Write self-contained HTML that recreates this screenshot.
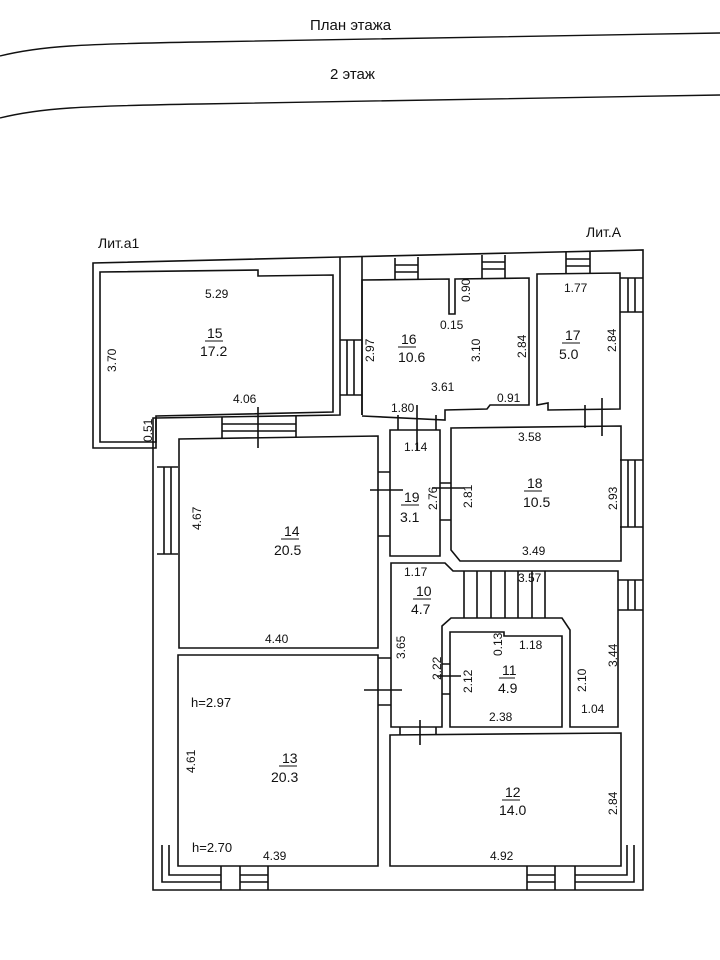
<!DOCTYPE html>
<html><head><meta charset="utf-8"><style>
html,body{margin:0;padding:0;background:#fff;}
svg{display:block}
text{font-family:"Liberation Sans",sans-serif;font-size:12px;fill:#111}
.n{font-size:14px}
.h{font-family:"Liberation Sans Narrow","Liberation Sans",sans-serif;font-size:15px}
</style></head><body>
<svg width="720" height="960" viewBox="0 0 720 960" xmlns="http://www.w3.org/2000/svg">
<g fill="none" stroke="#111" stroke-width="1.6">
<!-- header -->
<path d="M0,56 C40,46 80,44 200,42 L720,33" stroke-width="1.4"/>
<path d="M0,118 C40,108 80,106 200,104 L720,95" stroke-width="1.4"/>
<!-- Lit a1 outer -->
<path d="M93,448 L93,263 L340,257 L643,250 L643,890 L153,890 L153,418 L156,418 L156,448 Z"/>
<!-- room 15 -->
<path d="M100,442 L100,272 L258,270 L258,276 L333,275 L333,412 L156,416 L156,442 Z"/>
<!-- main top outer separation -->
<path d="M156,418 L340,415 L340,257"/>
<path d="M362,415 L362,257"/>
<!-- room 16 -->
<path d="M362,415 L362,280 L449,279 L449,314 L455,314 L455,279 L529,278 L529,405 L490,405 L487,409 L445,410 L445,420 L362,416"/>
<!-- room 17 -->
<path d="M537,405 L537,274 L620,273 L620,409 L548,410 L548,403 Z"/>
<!-- room 14 -->
<path d="M179,648 L179,439 L378,436 L378,648 Z"/>
<!-- room 13 -->
<path d="M178,866 L178,655 L378,655 L378,866 Z"/>
<!-- room 19 -->
<path d="M390,556 L390,430 L440,430 L440,556 Z"/>
<!-- room 18 -->
<path d="M451,550 L451,428 L621,426 L621,561 L460,561 Z"/>
<!-- room 10 + stair -->
<path d="M391,727 L391,563 L445,563 L453,571 L618,571 L618,727 L570,727 L570,630 L562,618 L451,618 L442,626 L442,727 Z"/>
<!-- room 11 -->
<path d="M450,727 L450,632 L504,632 L504,636 L562,636 L562,727 Z"/>
<!-- stair lines -->
<path d="M464,571V618M477,571V618M491,571V618M505,571V618M518,571V618M532,571V618M545,571V618"/>
<!-- room 12 -->
<path d="M390,866 L390,735 L621,733 L621,866 Z"/>
<!-- bottom corner lines -->
<path d="M162,845 V882 H221 M169,845 V875 H221"/>
<path d="M634,845 V882 H575 M627,845 V875 H575"/>
<path d="M221,866V890 M240,866V890 M268,866V890 M240,875H268 M240,882H268"/>
<path d="M527,866V890 M555,866V890 M575,866V890 M527,875H555 M527,882H555"/>
<!-- windows -->
<path d="M222,417V438 M296,416V437 M222,424H296 M222,431H296"/>
<path d="M157,467H178 M157,554H178 M164,467V554 M171,467V554"/>
<path d="M340,340H362 M340,395H362 M347,340V395 M354,340V395"/>
<path d="M395,258V280 M418,257V280 M395,265H418 M395,272H418"/>
<path d="M482,255V279 M505,255V279 M482,262H505 M482,269H505"/>
<path d="M566,252V274 M590,252V274 M566,259H590 M566,266H590"/>
<path d="M620,278H643 M620,312H643 M628,278V312 M635,278V312"/>
<path d="M620,460H643 M620,527H643 M628,460V527 M635,460V527"/>
<path d="M618,580H643 M618,610H643 M628,580V610 M635,580V610"/>
<!-- doors -->
<path d="M378,472H390 M378,536H390 M370,490H403"/>
<path d="M378,658H391 M378,705H391 M364,690H402"/>
<path d="M440,483H451 M440,520H451 M432,488H464"/>
<path d="M442,664H450 M442,694H450 M437,676H461"/>
<path d="M398,415V430 M436,415V430 M417,405V450"/>
<path d="M400,727V735 M436,727V735 M420,720V745"/>
<path d="M585,405V428 M602,398V436"/>
<path d="M258,407V448"/>
</g>
<g>
<text class="h" x="310" y="30">План этажа</text>
<text class="h" x="330" y="79">2 этаж</text>
<text x="98" y="248" style="font-size:14px">Лит.a1</text>
<text x="586" y="237" style="font-size:14px">Лит.А</text>
<text x="205" y="298">5.29</text>
<text class="n" x="207" y="338">15</text><path d="M205,341h18" stroke="#111"/>
<text class="n" x="200" y="356">17.2</text>
<text x="0" y="0" transform="translate(116,372) rotate(-90)">3.70</text>
<text x="233" y="403">4.06</text>
<text x="0" y="0" transform="translate(152,442) rotate(-90)">0.51</text>
<text x="0" y="0" transform="translate(374,362) rotate(-90)">2.97</text>
<text class="n" x="401" y="344">16</text><path d="M398,347h18" stroke="#111"/>
<text class="n" x="398" y="362">10.6</text>
<text x="0" y="0" transform="translate(470,302) rotate(-90)">0.90</text>
<text x="440" y="329">0.15</text>
<text x="0" y="0" transform="translate(480,362) rotate(-90)">3.10</text>
<text x="0" y="0" transform="translate(526,358) rotate(-90)">2.84</text>
<text x="431" y="391">3.61</text>
<text x="497" y="402">0.91</text>
<text x="391" y="412">1.80</text>
<text x="564" y="292">1.77</text>
<text class="n" x="565" y="340">17</text><path d="M562,343h18" stroke="#111"/>
<text class="n" x="559" y="359">5.0</text>
<text x="0" y="0" transform="translate(616,352) rotate(-90)">2.84</text>
<text x="404" y="451">1.14</text>
<text x="518" y="441">3.58</text>
<text class="n" x="404" y="502">19</text><path d="M401,505h18" stroke="#111"/>
<text class="n" x="400" y="522">3.1</text>
<text x="0" y="0" transform="translate(437,510) rotate(-90)">2.76</text>
<text x="0" y="0" transform="translate(472,508) rotate(-90)">2.81</text>
<text class="n" x="527" y="488">18</text><path d="M524,491h18" stroke="#111"/>
<text class="n" x="523" y="507">10.5</text>
<text x="0" y="0" transform="translate(617,510) rotate(-90)">2.93</text>
<text x="522" y="555">3.49</text>
<text x="0" y="0" transform="translate(201,530) rotate(-90)">4.67</text>
<text class="n" x="284" y="536">14</text><path d="M281,539h18" stroke="#111"/>
<text class="n" x="274" y="555">20.5</text>
<text x="265" y="643">4.40</text>
<text x="404" y="576">1.17</text>
<text class="n" x="416" y="596">10</text><path d="M413,599h18" stroke="#111"/>
<text class="n" x="411" y="614">4.7</text>
<text x="518" y="582">3.57</text>
<text x="0" y="0" transform="translate(405,659) rotate(-90)">3.65</text>
<text x="0" y="0" transform="translate(441,680) rotate(-90)">2.22</text>
<text x="0" y="0" transform="translate(472,693) rotate(-90)">2.12</text>
<text x="0" y="0" transform="translate(502,656) rotate(-90)">0.13</text>
<text x="519" y="649">1.18</text>
<text class="n" x="502" y="675">11</text><path d="M499,678h16" stroke="#111"/>
<text class="n" x="498" y="693">4.9</text>
<text x="489" y="721">2.38</text>
<text x="0" y="0" transform="translate(586,692) rotate(-90)">2.10</text>
<text x="0" y="0" transform="translate(617,667) rotate(-90)">3.44</text>
<text x="581" y="713">1.04</text>
<text x="191" y="707" style="font-size:13px">h=2.97</text>
<text x="0" y="0" transform="translate(195,773) rotate(-90)">4.61</text>
<text class="n" x="282" y="763">13</text><path d="M279,766h18" stroke="#111"/>
<text class="n" x="271" y="782">20.3</text>
<text x="192" y="852" style="font-size:13px">h=2.70</text>
<text x="263" y="860">4.39</text>
<text class="n" x="505" y="797">12</text><path d="M502,800h18" stroke="#111"/>
<text class="n" x="499" y="815">14.0</text>
<text x="0" y="0" transform="translate(617,815) rotate(-90)">2.84</text>
<text x="490" y="860">4.92</text>
</g>
</svg>
</body></html>
